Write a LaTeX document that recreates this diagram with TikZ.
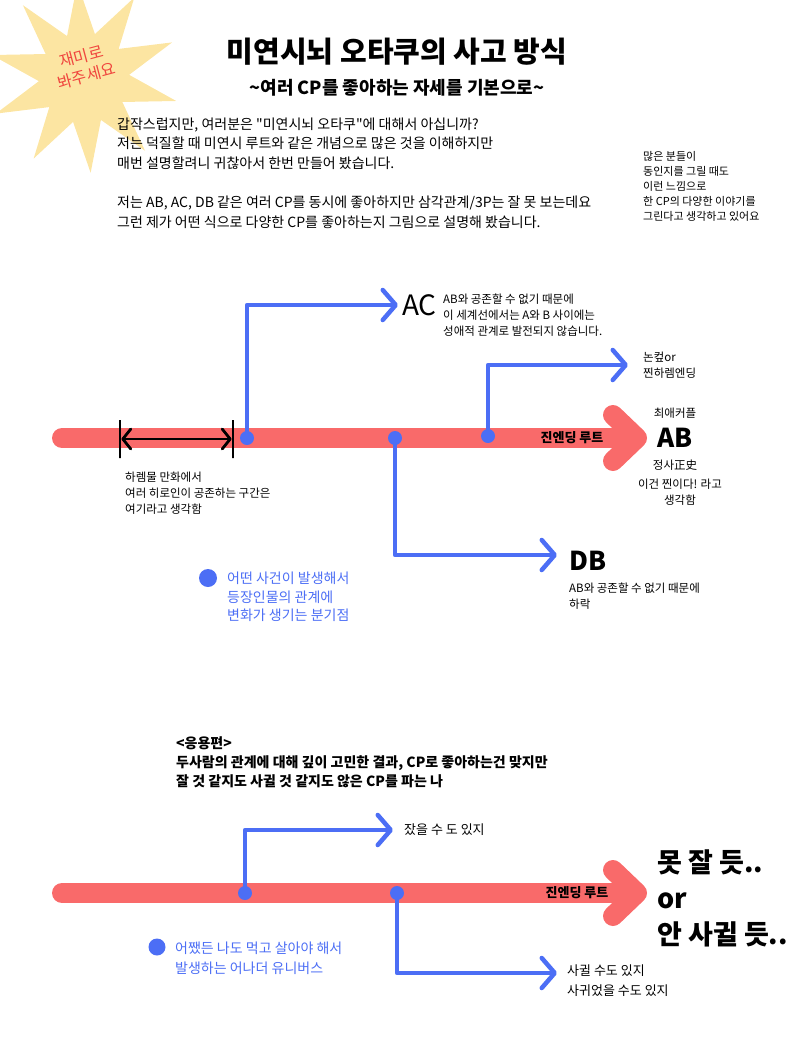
\documentclass[tikz,border=0pt]{standalone}
\usepackage{fontspec}
\setmainfont{Noto Sans CJK KR}
\usetikzlibrary{arrows.meta,shapes.geometric}
\definecolor{routered}{HTML}{F96A6A}
\definecolor{branchblue}{HTML}{4C6EF5}
\definecolor{burstyellow}{HTML}{FCE5A2}
\definecolor{stampred}{HTML}{F0463E}
\newcommand{\fs}[2]{\fontsize{#1}{#2}\selectfont}
\begin{document}
\begin{tikzpicture}[x=1pt,y=-1pt,
  route/.style={draw=routered,line width=20pt,line cap=round,-{Straight Barb[length=24pt,width=46pt,round]}},
  branch/.style={draw=branchblue,line width=4.5pt,line cap=round,line join=round,-{Straight Barb[length=13pt,width=30pt,round]}},
  bdot/.style={circle,fill=branchblue,inner sep=0pt,minimum size=14pt},
  note/.style={align=left,anchor=west,inner sep=0pt,font=\fs{11.5}{15.5}},
  hbar/.style={draw=black,line width=2.8pt,minimum width=0pt,minimum height=38pt,inner sep=0pt},
  harem/.style={draw=black,line width=2.8pt,{Straight Barb[length=8pt,width=20pt,round]}-{Straight Barb[length=8pt,width=20pt,round]}}]
\useasboundingbox (0,0) rectangle (800,1061);
% header
\node[star,star points=10,star point ratio=2.1,minimum size=190pt,fill=burstyellow,inner sep=0pt,rotate=4] (burst) at (84,78) {};
\node[text=stampred,font=\fs{16}{20},align=center,rotate=15] (stamp) at (84,66) {재미로\\봐주세요};
\node[font=\bfseries\fs{29}{34}] (title) at (397,52) {미연시뇌 오타쿠의 사고 방식};
\node[font=\bfseries\fs{18}{22}] (subtitle) at (397,88) {\textasciitilde 여러 CP를 좋아하는 자세를 기본으로\textasciitilde};
\node[note,font=\fs{14}{19.6}] (intro) at (117,173) {갑작스럽지만, 여러분은 \textquotedbl 미연시뇌 오타쿠\textquotedbl 에 대해서 아십니까?\\저는 덕질할 때 미연시 루트와 같은 개념으로 많은 것을 이해하지만\\매번 설명할려니 귀찮아서 한번 만들어 봤습니다.\\[19.6pt]저는 AB, AC, DB 같은 여러 CP를 동시에 좋아하지만 삼각관계/3P는 잘 못 보는데요\\그런 제가 어떤 식으로 다양한 CP를 좋아하는지 그림으로 설명해 봤습니다.};
\node[note,font=\fs{11}{15}] (sidenote) at (643,186) {많은 분들이\\동인지를 그릴 때도\\이런 느낌으로\\한 CP의 다양한 이야기를\\그린다고 생각하고 있어요};

% main route
\coordinate (r1s) at (62,438);
\coordinate (r1e) at (647,438);
\draw[route] (r1s) -- (r1e);
\node[font=\bfseries\fs{13}{15}] (r1lab) at (572,438) {진엔딩 루트};
\node[font=\bfseries\fs{26}{30}] (ab) at (675,438) {AB};
\node[font=\fs{11.5}{15}] (abtop) at (675,413) {최애커플};
\node[font=\fs{11.5}{15}] (abbot) at (675,465) {정사正史};
\node[font=\fs{11.5}{16},align=center] (abnote) at (680,492) {이건 찐이다! 라고\\생각함};

% harem zone
\node[hbar] (hl) at (120,439) {};
\node[hbar] (hr) at (233,439) {};
\draw[harem] (hl) -- (hr);
\node[note,font=\fs{11.5}{16}] (haremtxt) at (125,493) {하렘물 만화에서\\여러 히로인이 공존하는 구간은\\여기라고 생각함};

% branches
\node[bdot] (b1) at (247,438) {};
\node[bdot] (b2) at (395,438) {};
\node[bdot] (b3) at (488,436) {};
\node[inner xsep=4pt,inner ysep=2pt,anchor=west,font=\fs{28}{32}] (ac) at (398,305) {AC};
\node[note,font=\fs{11.5}{16}] (actxt) at (443,315) {AB와 공존할 수 없기 때문에\\이 세계선에서는 A와 B 사이에는\\성애적 관계로 발전되지 않습니다.};
\node[note,inner xsep=15pt] (nc) at (628,365) {논컾or\\찐하렘엔딩};
\coordinate (b2e) at (557,555);
\node[font=\bfseries\fs{26}{30},anchor=west,inner sep=0pt] (db) at (569,561) {DB};
\node[note,font=\fs{11.5}{16}] (dbtxt) at (569,596) {AB와 공존할 수 없기 때문에\\하락};
\draw[branch] (b1) |- (ac.west);
\draw[branch] (b2) |- (b2e);
\draw[branch] (b3) |- (nc.west);

% legend
\node[bdot,minimum size=18pt] (key1) at (208,578) {};
\node[note,text=branchblue,font=\fs{14}{18.5}] (key1txt) at (227,597) {어떤 사건이 발생해서\\등장인물의 관계에\\변화가 생기는 분기점};

% applied
\node[note,font=\bfseries\fs{14}{19}] (apply) at (176,762) {<응용편>\\두사람의 관계에 대해 깊이 고민한 결과, CP로 좋아하는건 맞지만\\잘 것 같지도 사귈 것 같지도 않은 CP를 파는 나};
\coordinate (r2s) at (62,893);
\coordinate (r2e) at (647,893);
\draw[route] (r2s) -- (r2e);
\node[font=\bfseries\fs{13}{15}] (r2lab) at (577,893) {진엔딩 루트};
\node[bdot] (b4) at (245,893) {};
\node[bdot] (b5) at (397,893) {};
\node[note,inner xsep=11pt,font=\fs{13}{17}] (slept) at (393,830) {잤을 수 도 있지};
\coordinate (b5e) at (557,973);
\node[note,font=\fs{13}{20}] (dated) at (567,981) {사귈 수도 있지\\사귀었을 수도 있지};
\draw[branch] (b4) |- (slept.west);
\draw[branch] (b5) |- (b5e);
\node[note,font=\bfseries\fs{27}{36}] (verdict) at (657,898) {못 잘 듯..\\or\\안 사귈 듯..};
\node[bdot,minimum size=17pt] (key2) at (157,947) {};
\node[note,text=branchblue,font=\fs{14}{20}] (key2txt) at (175,958) {어쨌든 나도 먹고 살아야 해서\\발생하는 어나더 유니버스};
\end{tikzpicture}
\end{document}
